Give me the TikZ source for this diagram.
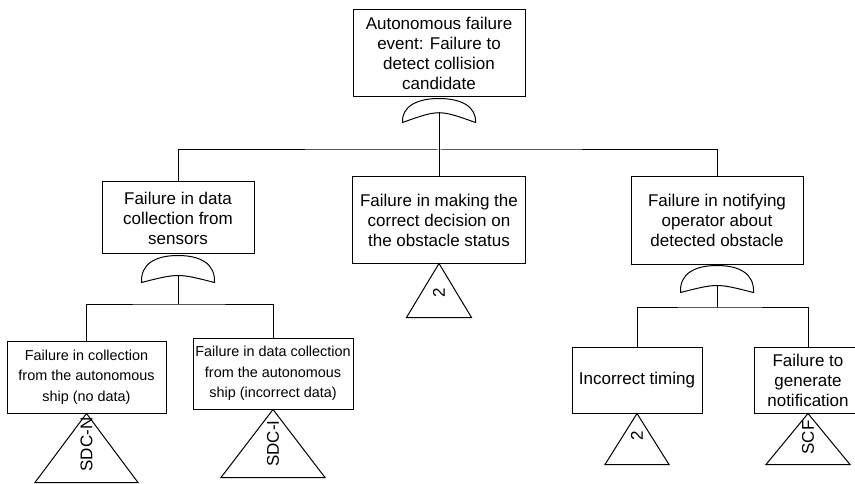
\documentclass[tikz,border=0pt]{standalone}
\usepackage{fontspec}
\setmainfont{Liberation Sans}
\begin{document}
\begin{tikzpicture}[x=1pt,y=-1pt,
  line width=1pt,
  event/.style={draw, rectangle, inner sep=0pt, align=center,
    font=\fontsize{17}{20}\selectfont},
  smallevent/.style={event, font=\fontsize{14.4}{20.5}\selectfont},
  gatepath/.style={draw, line join=round},
  link/.style={draw},
  tag/.style={rotate=90, inner sep=0pt, font=\fontsize{17}{20}\selectfont}]

\useasboundingbox (0,0) rectangle (855,484);
\clip (0,0) rectangle (855,484);

% OR gate hanging under an event box: #1 anchor, #2 output coordinate,
% #3 corner depth, #4 control depth of the lower curve, #5 output depth
\newcommand\orgate[5]{%
  \begin{scope}[shift={(#1)}]
    \path[gatepath] (-36.5,#3) .. controls (-37.5,9) and (-22,1) .. (0,1)
      .. controls (22,1) and (37.5,9) .. (36.5,#3)
      .. controls (0,#4) .. (-36.5,#3) -- cycle;
    \coordinate (#2) at (0,#5);
  \end{scope}}

% transfer triangle under an event box: #1 anchor, #2 half width, #3 height,
% #4 label node name, #5 label depth, #6 label text
\newcommand\transfer[6]{%
  \begin{scope}[shift={(#1)}]
    \draw[line join=miter] (0,0) -- (#2,#3) -- (-#2,#3) -- cycle;
    \node[tag] (#4) at (0,#5) {#6};
  \end{scope}}

% event boxes
\node[event, minimum width=172, minimum height=87] (top) at (439,53.5)
  {Autonomous failure\\event: Failure to\\detect collision\\candidate};
\node[event, minimum width=152, minimum height=72] (sens) at (178,218)
  {Failure in data\\collection from\\sensors};
\node[event, minimum width=173, minimum height=86] (dec) at (439,220)
  {Failure in making the\\correct decision on\\the obstacle status};
\node[event, minimum width=172, minimum height=87] (notif) at (717,220.5)
  {Failure in notifying\\operator about\\detected obstacle};
\node[smallevent, minimum width=159, minimum height=72] (nodata) at (86.5,377)
  {Failure in collection\\from the autonomous\\ship (no data)};
\node[smallevent, minimum width=160, minimum height=71] (incdata) at (273,373.5)
  {Failure in data collection\\from the autonomous\\ship (incorrect data)};
\node[event, minimum width=130, minimum height=66] (timing) at (637,380)
  {Incorrect timing};
\node[event, minimum width=108, minimum height=66] (gen) at (808,380)
  {Failure to\\generate\\notification};

% gates
\orgate{top.south}{g0}{25}{12}{15}
\orgate{sens.south}{g1}{28}{18.7}{21}
\orgate{notif.south}{g2}{28}{18.7}{21}

% branching levels
\coordinate (bar0) at (439,150);
\coordinate (bar1) at (178,304);
\coordinate (bar2) at (717,307);

% connectors
\path[link] (g0) -- (dec.north);
\path[link] (sens.north) |- (bar0) -| (notif.north);
\path[link] (g1) -- (bar1);
\path[link] (nodata.north) |- (bar1) -| (incdata.north);
\path[link] (g2) -- (bar2);
\path[link] (timing.north) |- (bar2) -| (gen.north);

% transfer symbols
\transfer{dec.south}{32.5}{54}{t1}{29}{2}
\transfer{nodata.south}{51.5}{69}{t2}{31}{SDC-N}
\transfer{incdata.south}{52}{68}{t3}{34}{SDC-I}
\transfer{timing.south}{32}{51}{t4}{22}{2}
\transfer{gen.south}{42}{51}{t5}{24}{SCF}

\end{tikzpicture}
\end{document}
